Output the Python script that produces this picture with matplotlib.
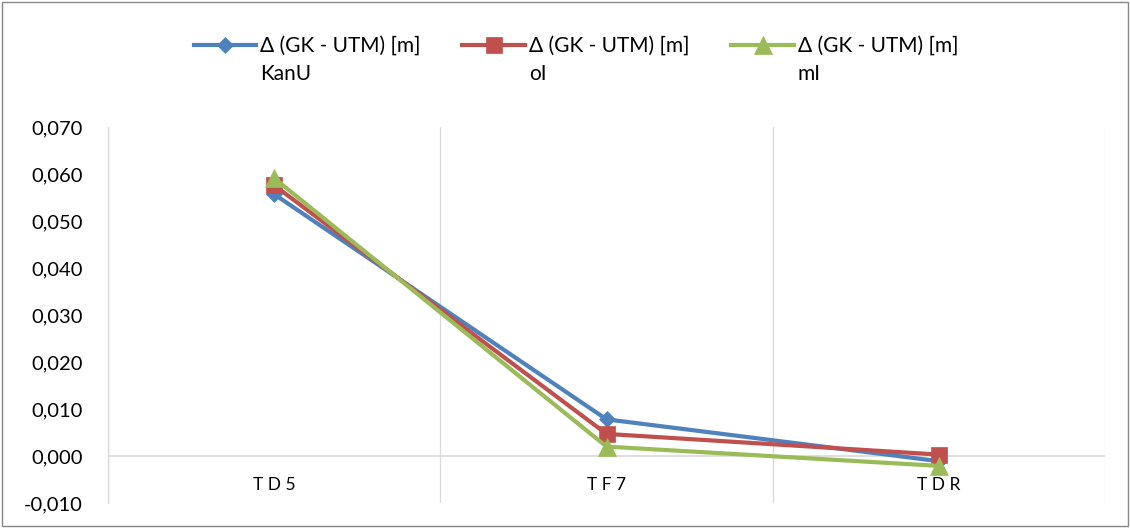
import matplotlib.pyplot as plt
from matplotlib.patches import Rectangle
from matplotlib.ticker import FuncFormatter, FixedLocator

plt.rcParams["font.family"] = ["Lato", "DejaVu Sans"]

# points along the line and the three differences per variant
points = ["T D 5", "T F 7", "T D R"]
kanu = [0.0557, 0.0078, -0.0011]
oi = [0.0576, 0.0047, 0.0003]
mi = [0.0591, 0.0020, -0.0021]

first_line = "Δ (GK - UTM) [m]"
variants = ["KanU", "oI", "mI"]

fig = plt.figure(figsize=(11.3, 5.28), dpi=100)
ax = fig.add_axes([108 / 1130, 1 - 503 / 528, 997 / 1130, 376 / 528])

x = range(len(points))
ax.plot(x, kanu, color="#4F81BD", lw=3, marker="D", ms=8, mew=0.5, label=first_line)
ax.plot(x, oi, color="#C0504D", lw=3, marker="s", ms=11, mew=0.5, label=first_line)
ax.plot(x, mi, color="#9BBB59", lw=3, marker="^", ms=13, mew=0.5, label=first_line)

ax.set_xlim(-0.5, len(points) - 0.5)
ax.set_ylim(-0.010, 0.070)
ax.set_yticks([i / 1000 for i in range(-10, 71, 10)])
ax.yaxis.set_major_formatter(FuncFormatter(lambda v, p: f"{v:.3f}".replace(".", ",")))
ax.tick_params(axis="y", length=0, pad=18, labelsize=14.5, colors="#000000")

# vertical separators between categories
ax.set_xticks([])
ax.xaxis.set_minor_locator(FixedLocator([i - 0.5 for i in range(len(points) + 1)]))
ax.tick_params(axis="x", which="minor", length=0)
ax.grid(axis="x", which="minor", color="#d9d9d9", lw=0.9)
ax.axhline(0, color="#d9d9d9", lw=1.2, zorder=1)

for s in ["top", "right", "bottom"]:
    ax.spines[s].set_visible(False)
ax.spines["left"].set_color("#d9d9d9")
ax.spines["left"].set_linewidth(0.9)

for i, name in enumerate(points):
    ax.annotate(name, (i, 0), xytext=(0, -21), textcoords="offset points",
                ha="center", va="center", fontsize=12.5)

leg = fig.legend(loc="center", bbox_to_anchor=(576 / 1130, 1 - 46 / 528), ncol=3,
                 frameon=False, fontsize=15, handlelength=3.0, handletextpad=0.2,
                 columnspacing=2.0, borderpad=0)

# second line of each legend label
fig.canvas.draw()
inv = fig.transFigure.inverted()
for t, v in zip(leg.get_texts(), variants):
    bb = t.get_window_extent()
    x0, y0 = inv.transform((bb.x0, bb.y0))
    fig.text(x0, y0 - 8 / 528, v, fontsize=15, ha="left", va="top")

fig.patches.append(Rectangle((0.002, 0.003), 0.996, 0.994, transform=fig.transFigure,
                             fill=False, edgecolor="#868686", lw=1))

fig.savefig("out.png", dpi=100)
